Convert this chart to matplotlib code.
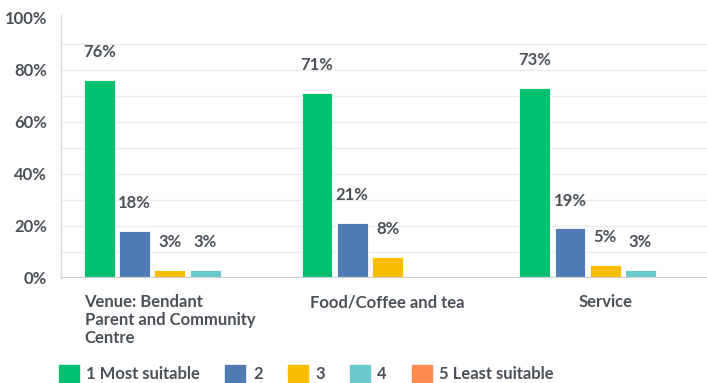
import matplotlib
matplotlib.use('Agg')
import matplotlib.pyplot as plt
import matplotlib.patches as mpatches
import matplotlib.transforms as mtransforms
import numpy as np

categories = ['Venue: Bendant\nParent and Community\nCentre', 'Food/Coffee and tea', 'Service']
series = ['1 Most suitable', '2', '3', '4', '5 Least suitable']
colors = ['#00bf6f', '#507cb6', '#f9be00', '#6bc8cd', '#ff8b4f']
values = [
    [76, 71, 73],   # 1 Most suitable
    [18, 21, 19],   # 2
    [3, 8, 5],      # 3
    [3, 0, 3],      # 4
    [0, 0, 0],      # 5 Least suitable
]

text_color = '#4b5158'
plt.rcParams['font.family'] = ['Lato', 'DejaVu Sans']
plt.rcParams['font.weight'] = 'bold'
fs = 12

W, H = 707, 383
fig = plt.figure(figsize=(W / 100, H / 100), dpi=100)
ax = fig.add_axes([61 / W, (H - 277.7) / H, (W - 61) / W, 262.7 / H])

pitch = 0.162
width = 0.142
x = np.arange(len(categories))
for i, (name, vals, col) in enumerate(zip(series, values, colors)):
    xs = x + (i - 2) * pitch
    ax.bar(xs, vals, width=width, color=col, edgecolor='white', linewidth=0.6, zorder=3)
    for xi, v in zip(xs, vals):
        if v > 0:
            ax.annotate(f'{v}%', (xi, v), xytext=(0, 20), textcoords='offset points',
                        ha='center', va='center', fontsize=fs, color=text_color)

ax.set_xlim(-0.5, -0.5 + (W - 61) / 217.7)
ax.set_ylim(0, 101)

for g in range(10, 100, 10):
    ax.axhline(g, color='#ececec', linewidth=1, zorder=1)
ax.axhline(0, color='#cfcfcf', linewidth=1.6, zorder=4)

ax.set_yticks(range(0, 101, 20))
ax.set_yticklabels([f'{t}%' for t in range(0, 101, 20)], fontsize=fs, color=text_color)
shift = mtransforms.ScaledTranslation(0, -5 / 100, fig.dpi_scale_trans)
for lbl in ax.get_yticklabels():
    lbl.set_transform(lbl.get_transform() + shift)
ax.tick_params(axis='y', length=0, pad=10)

ax.set_xticks(x)
ax.set_xticklabels(categories, fontsize=fs, color=text_color, linespacing=1.15,
                   multialignment='left')
ax.tick_params(axis='x', length=0, pad=12)

for side in ['top', 'right', 'bottom']:
    ax.spines[side].set_visible(False)
ax.spines['left'].set_color('#dadada')
ax.spines['left'].set_linewidth(1)

handles = [mpatches.Patch(facecolor=c, edgecolor=c, joinstyle='round', linewidth=1) for c in colors]
fig.legend(handles, series, loc='upper left', bbox_to_anchor=(59 / W, 1 - 364.5 / H),
           ncol=5, frameon=False, fontsize=fs, handlelength=1.2, handleheight=1.2,
           handletextpad=0.45, columnspacing=1.5, borderpad=0, borderaxespad=0,
           labelcolor=text_color)

fig.savefig('out.png', dpi=100, facecolor='white')
